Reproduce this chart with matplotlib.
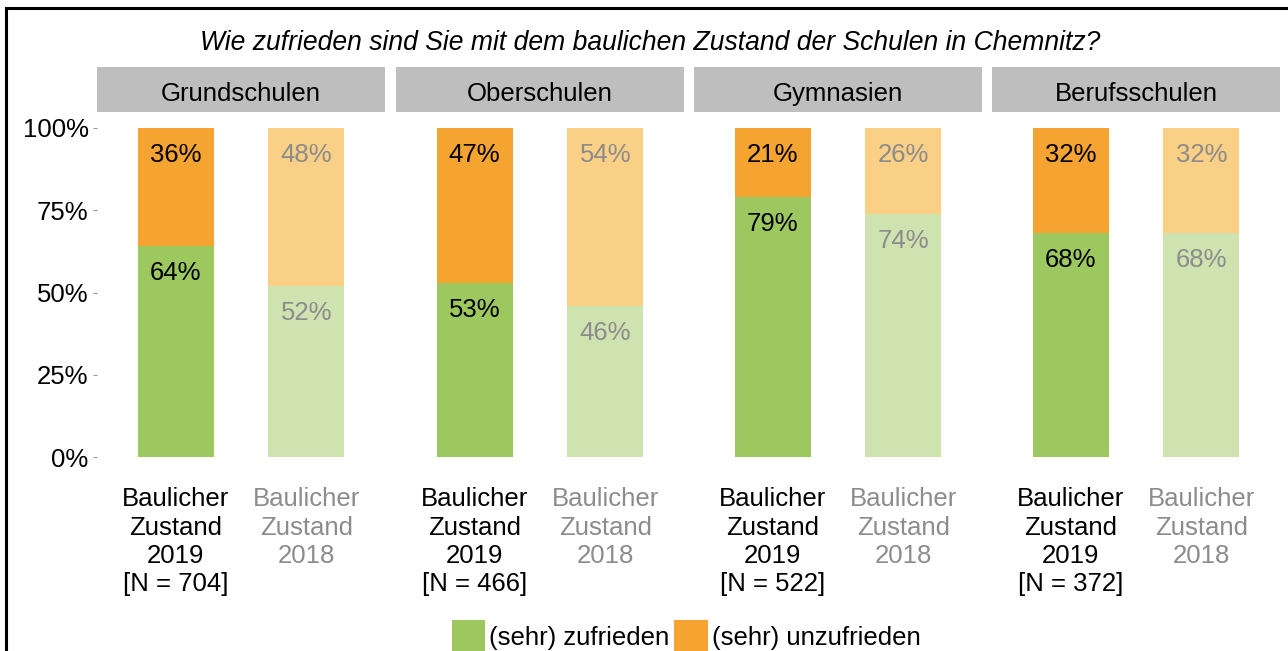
import numpy as np
import matplotlib.pyplot as plt
from matplotlib.patches import Patch
from matplotlib.lines import Line2D

plt.rcParams['font.family'] = ['Liberation Sans', 'DejaVu Sans']

# data
schools = ["Grundschulen", "Oberschulen", "Gymnasien", "Berufsschulen"]
n_2019 = [704, 466, 522, 372]
zufrieden_2019 = [64, 53, 79, 68]
unzufrieden_2019 = [36, 47, 21, 32]
zufrieden_2018 = [52, 46, 74, 68]
unzufrieden_2018 = [48, 54, 26, 32]

title = "Wie zufrieden sind Sie mit dem baulichen Zustand der Schulen in Chemnitz?"
green, orange = "#9DC75F", "#F5A431"
green_l, orange_l = "#CFE3B0", "#F9D085"
gray_txt = "#8C8C8C"
fs = 18.5

W, H = 1288, 651
fig = plt.figure(figsize=(W / 100, H / 100), dpi=100)

panel_x = [97, 396, 694, 992]
panel_w = 288
panel_top, panel_bot = 111.5, 473.5
strip_top, strip_bot = 67, 112

for i, name in enumerate(schools):
    ax = fig.add_axes([panel_x[i] / W, 1 - panel_bot / H,
                       panel_w / W, (panel_bot - panel_top) / H])
    z = [zufrieden_2019[i] / 100, zufrieden_2018[i] / 100]
    u = [unzufrieden_2019[i] / 100, unzufrieden_2018[i] / 100]
    x = [1, 2]
    ax.bar(x, z, width=0.58, color=[green, green_l])
    ax.bar(x, u, bottom=z, width=0.58, color=[orange, orange_l])
    for j in range(2):
        col = "black" if j == 0 else gray_txt
        ax.text(x[j], z[j] - 0.082, f"{round(z[j] * 100)}%", ha="center",
                va="center", fontsize=fs, color=col)
        ax.text(x[j], 1 - 0.082, f"{round(u[j] * 100)}%", ha="center",
                va="center", fontsize=fs, color=col)
    ax.set_xlim(0.4, 2.6)
    ax.set_ylim(-0.05, 1.05)
    for s in ax.spines.values():
        s.set_visible(False)
    ax.set_xticks(x)
    ax.set_xticklabels([f"Baulicher\nZustand\n2019\n[N = {n_2019[i]}]",
                        "Baulicher\nZustand\n2018"],
                       fontsize=fs, linespacing=1.22, va="top")
    ax.get_xticklabels()[1].set_color(gray_txt)
    ax.tick_params(axis="x", length=0, pad=10)
    ax.set_yticks([0, 0.25, 0.5, 0.75, 1.0])
    if i == 0:
        ax.set_yticklabels(["0%", "25%", "50%", "75%", "100%"], fontsize=fs)
        ax.tick_params(axis="y", length=3, width=0.8, color="#999999", pad=3)
    else:
        ax.tick_params(axis="y", length=0, labelleft=False)

    sax = fig.add_axes([panel_x[i] / W, 1 - strip_bot / H,
                        panel_w / W, (strip_bot - strip_top) / H])
    sax.set_facecolor("#BEBEBE")
    sax.set_xticks([])
    sax.set_yticks([])
    for s in sax.spines.values():
        s.set_visible(False)
    sax.text(0.5, 0.4, name, ha="center", va="center", fontsize=fs,
             transform=sax.transAxes)

fig.text(650 / W, 1 - 43 / H, title, ha="center", va="center",
         fontsize=19.1, style="italic")

handles = [Patch(facecolor=green, edgecolor="none"),
           Patch(facecolor=orange, edgecolor="none")]
fig.legend(handles, ["(sehr) zufrieden", "(sehr) unzufrieden"],
           loc="center", bbox_to_anchor=(686 / W, 1 - 637 / H), ncol=2,
           frameon=False, fontsize=fs, handlelength=1.3, handleheight=1.6,
           handletextpad=0.15, columnspacing=0.2, borderpad=0)

# frame lines at top and left
fig.add_artist(Line2D([6 / W, 1.0], [1 - 8 / H, 1 - 8 / H], color="black",
                      lw=2.2, transform=fig.transFigure))
fig.add_artist(Line2D([6 / W, 6 / W], [0, 1 - 8 / H], color="black",
                      lw=2.2, transform=fig.transFigure))

plt.savefig("out.png", dpi=100)
